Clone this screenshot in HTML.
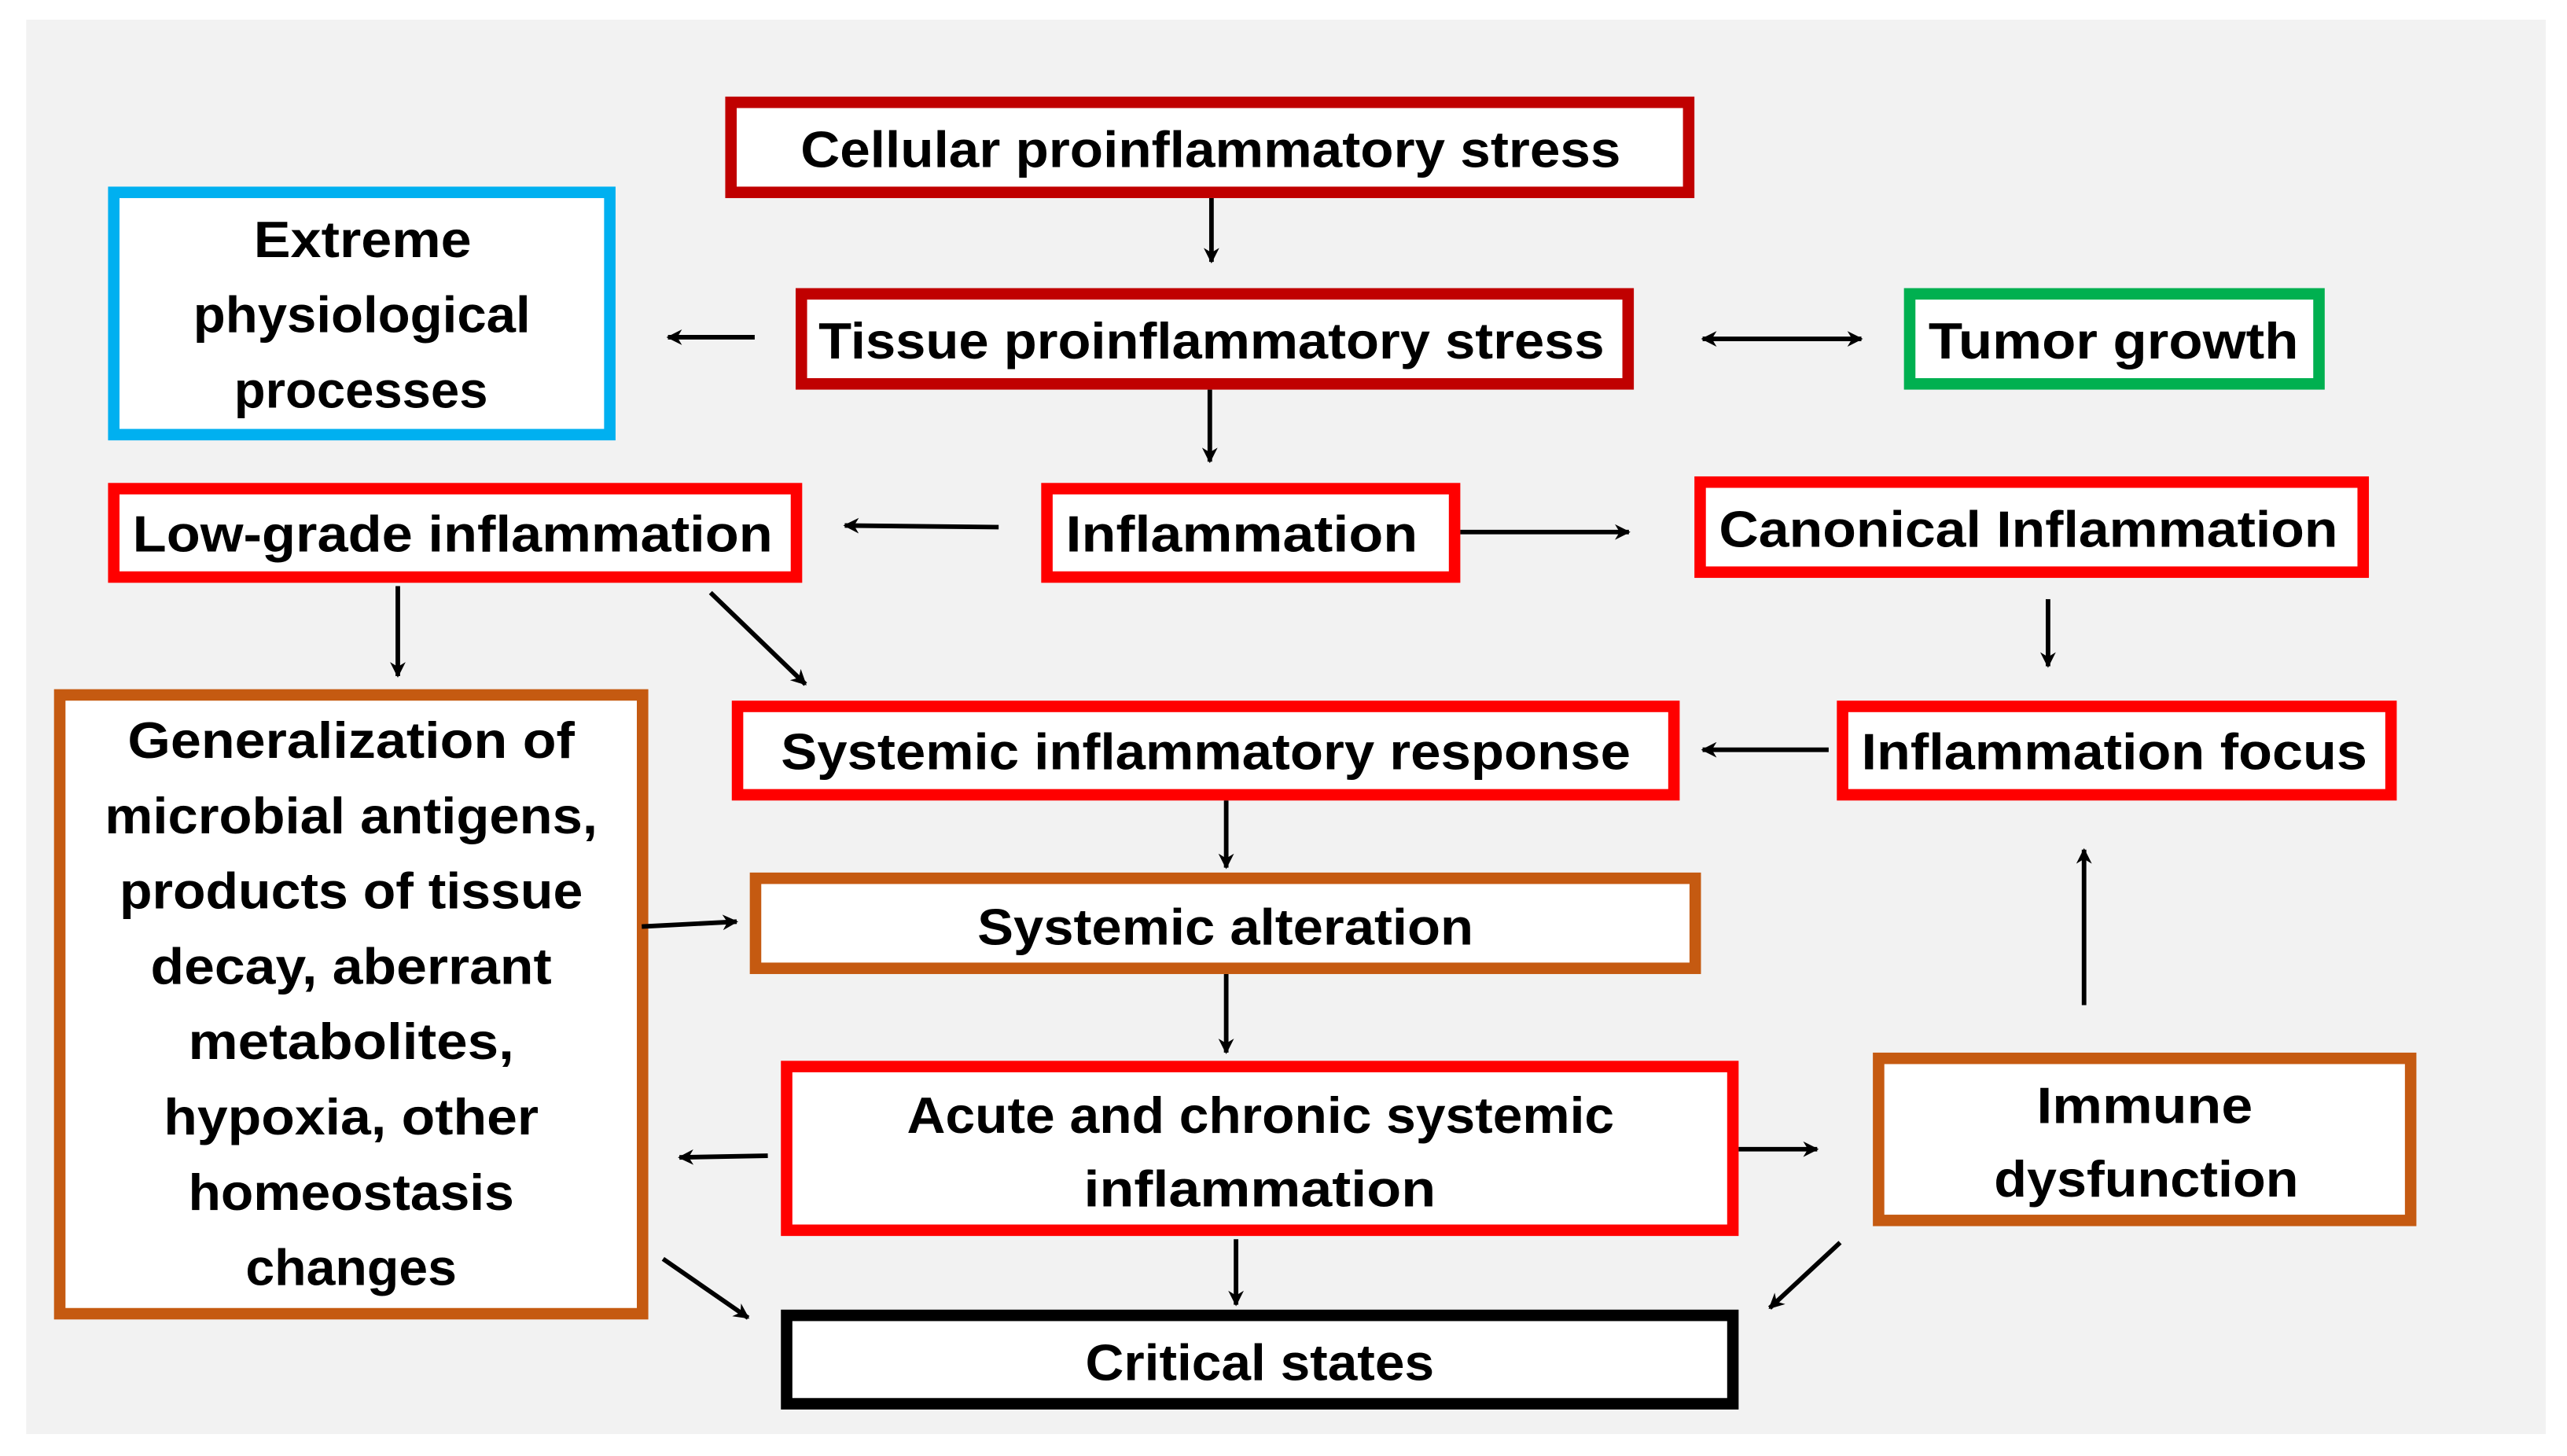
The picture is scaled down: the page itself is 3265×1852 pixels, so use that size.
<!DOCTYPE html>
<html><head><meta charset="utf-8"><style>
html,body{margin:0;padding:0;background:#fff;}
svg{display:block;}
text{font-family:"Liberation Sans",sans-serif;font-weight:bold;font-size:31px;fill:#000;}
</style></head><body>
<svg width="3265" height="1852" viewBox="0 0 1568 889.4" xmlns="http://www.w3.org/2000/svg">
<defs>
<marker id="a" viewBox="0 0 10 10" refX="9" refY="5" markerWidth="3.4" markerHeight="3.4" orient="auto-start-reverse" markerUnits="strokeWidth"><path d="M0,0 L10,5 L0,10 L3,5 z" fill="#000"/></marker>
</defs>
<rect x="0" y="0" width="1568" height="889.4" fill="#fff"/>
<rect x="16" y="12" width="1539" height="864" fill="#f2f2f2"/>
<g fill="#fff" stroke-width="7">
<rect x="446.5" y="62.5" width="585" height="55" stroke="#c00000"/>
<rect x="69.5" y="117.5" width="303" height="148" stroke="#00b0f0"/>
<rect x="489.5" y="179.5" width="505" height="55" stroke="#c00000"/>
<rect x="1166.5" y="179.5" width="250" height="55" stroke="#00b050"/>
<rect x="69.5" y="298.5" width="417" height="54" stroke="#ff0000"/>
<rect x="639.5" y="298.5" width="249" height="54" stroke="#ff0000"/>
<rect x="1038.5" y="294.5" width="405" height="55" stroke="#ff0000"/>
<rect x="36.5" y="424.5" width="356" height="378" stroke="#c55a11"/>
<rect x="450.5" y="431.5" width="572" height="54" stroke="#ff0000"/>
<rect x="1125.5" y="431.5" width="335" height="54" stroke="#ff0000"/>
<rect x="461.5" y="536.5" width="574" height="55" stroke="#c55a11"/>
<rect x="480.5" y="651.5" width="578" height="100" stroke="#ff0000"/>
<rect x="1147.5" y="646.5" width="325" height="99" stroke="#c55a11"/>
<rect x="480.5" y="803.5" width="578" height="54" stroke="#000"/>
</g>
<g stroke="#000" stroke-width="2.8" fill="none" marker-end="url(#a)">
<line x1="740" y1="121" x2="740" y2="160"/>
<line x1="461" y1="206" x2="408" y2="206"/>
<line x1="1040" y1="207" x2="1137" y2="207" marker-start="url(#a)"/>
<line x1="739" y1="238" x2="739" y2="282"/>
<line x1="610" y1="322" x2="516" y2="321"/>
<line x1="892" y1="325" x2="995" y2="325"/>
<line x1="1251" y1="366" x2="1251" y2="407"/>
<line x1="243" y1="358" x2="243" y2="413"/>
<line x1="434" y1="362" x2="492" y2="418"/>
<line x1="1117" y1="458" x2="1040" y2="458"/>
<line x1="749" y1="489" x2="749" y2="530"/>
<line x1="392" y1="566" x2="450" y2="563"/>
<line x1="749" y1="595" x2="749" y2="643"/>
<line x1="469" y1="706" x2="415" y2="707"/>
<line x1="1062" y1="702" x2="1110" y2="702"/>
<line x1="1273" y1="614" x2="1273" y2="519"/>
<line x1="755" y1="757" x2="755" y2="797"/>
<line x1="405" y1="769" x2="457" y2="805"/>
<line x1="1124" y1="759" x2="1081" y2="799"/>
</g>
<g>
<text x="489" y="102" textLength="501" lengthAdjust="spacingAndGlyphs">Cellular proinflammatory stress</text>
<text x="155" y="157" textLength="133" lengthAdjust="spacingAndGlyphs">Extreme</text>
<text x="118" y="203" textLength="206" lengthAdjust="spacingAndGlyphs">physiological</text>
<text x="143" y="249" textLength="155" lengthAdjust="spacingAndGlyphs">processes</text>
<text x="500" y="219" textLength="480" lengthAdjust="spacingAndGlyphs">Tissue proinflammatory stress</text>
<text x="1178" y="219" textLength="226" lengthAdjust="spacingAndGlyphs">Tumor growth</text>
<text x="81" y="337" textLength="391" lengthAdjust="spacingAndGlyphs">Low-grade inflammation</text>
<text x="651" y="337" textLength="215" lengthAdjust="spacingAndGlyphs">Inflammation</text>
<text x="1050" y="334" textLength="378" lengthAdjust="spacingAndGlyphs">Canonical Inflammation</text>
<text x="78" y="463" textLength="273" lengthAdjust="spacingAndGlyphs">Generalization of</text>
<text x="64" y="509" textLength="301" lengthAdjust="spacingAndGlyphs">microbial antigens,</text>
<text x="73" y="555" textLength="283" lengthAdjust="spacingAndGlyphs">products of tissue</text>
<text x="92" y="601" textLength="245" lengthAdjust="spacingAndGlyphs">decay, aberrant</text>
<text x="115" y="647" textLength="199" lengthAdjust="spacingAndGlyphs">metabolites,</text>
<text x="100" y="693" textLength="229" lengthAdjust="spacingAndGlyphs">hypoxia, other</text>
<text x="115" y="739" textLength="199" lengthAdjust="spacingAndGlyphs">homeostasis</text>
<text x="150" y="785" textLength="129" lengthAdjust="spacingAndGlyphs">changes</text>
<text x="477" y="470" textLength="519" lengthAdjust="spacingAndGlyphs">Systemic inflammatory response</text>
<text x="1137" y="470" textLength="309" lengthAdjust="spacingAndGlyphs">Inflammation focus</text>
<text x="597" y="577" textLength="303" lengthAdjust="spacingAndGlyphs">Systemic alteration</text>
<text x="554" y="692" textLength="432" lengthAdjust="spacingAndGlyphs">Acute and chronic systemic</text>
<text x="662" y="737" textLength="215" lengthAdjust="spacingAndGlyphs">inflammation</text>
<text x="1244" y="686" textLength="132" lengthAdjust="spacingAndGlyphs">Immune</text>
<text x="1218" y="731" textLength="186" lengthAdjust="spacingAndGlyphs">dysfunction</text>
<text x="663" y="843" textLength="213" lengthAdjust="spacingAndGlyphs">Critical states</text>
</g>
</svg>
</body></html>
